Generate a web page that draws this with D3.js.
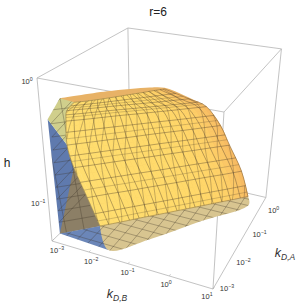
<!DOCTYPE html>
<html><head><meta charset="utf-8">
<script src="https://cdn.jsdelivr.net/npm/d3@7"></script>
<style>html,body{margin:0;padding:0;background:#fff}svg{display:block}text{font-family:"Liberation Sans",Arial,sans-serif}</style>
</head><body><svg id="c" width="300" height="308"></svg>
<script>
// values are log10 of kD,B, kD,A and h
const title = "r=6";
const tickB = [-3,-2,-1,0,1];
const tickA = [-3,-2,-1,0];
const tickH = [-1,0];
const domB = [-3,1], domA = [-3,0.33], domH = [-1.39,0];
// sheet rows (rising level of h), columns run along the kD,A ~ kD,B ridge
const sheetH = [-1.39,-1.11,-0.83,-0.63,-0.44,-0.35,-0.25];
const sheetB = [
 [-2.29,-1.93,-1.58,-1.22,-0.86,-0.51,-0.15,0.20,0.56],
 [-2.53,-2.17,-1.80,-1.44,-1.08,-0.72,-0.36,0.00,0.38],
 [-2.77,-2.41,-2.06,-1.70,-1.34,-0.99,-0.63,-0.28,0.10],
 [-2.88,-2.54,-2.19,-1.84,-1.50,-1.16,-0.81,-0.46,-0.10],
 [-2.92,-2.60,-2.29,-1.98,-1.66,-1.34,-1.03,-0.72,-0.38],
 [-2.88,-2.61,-2.34,-2.07,-1.80,-1.53,-1.26,-0.99,-0.70],
 [-2.60,-2.40,-2.22,-2.04,-1.86,-1.68,-1.51,-1.34,-1.16]];
const sheetA = [
 [-2.16,-1.87,-1.57,-1.28,-0.98,-0.69,-0.39,-0.10,0.20],
 [-2.26,-1.97,-1.69,-1.40,-1.12,-0.83,-0.54,-0.26,0.05],
 [-2.36,-2.09,-1.82,-1.55,-1.28,-1.01,-0.74,-0.47,-0.18],
 [-2.40,-2.15,-1.89,-1.64,-1.38,-1.13,-0.88,-0.62,-0.35],
 [-2.33,-2.12,-1.90,-1.68,-1.47,-1.25,-1.04,-0.82,-0.58],
 [-2.33,-2.15,-1.97,-1.78,-1.60,-1.42,-1.24,-1.05,-0.85],
 [-2.42,-2.28,-2.13,-1.97,-1.80,-1.63,-1.47,-1.30,-1.14]];
// rim of the far side of the sheet: [log kD,B, log kD,A, log h]
const rim = [[-2.84,-2.57,-0.21],[-2.13,-1.92,-0.21],[-1.38,-1.41,-0.21],[-1.16,-1.14,-0.24],[-0.80,-0.94,-0.31],[-0.40,-0.60,-0.44],[-0.10,-0.35,-0.62],[0.10,-0.19,-0.83],[0.38,0.05,-1.11],[0.57,0.21,-1.39]];
const wallTop = [-3,-2.80,-0.35];
const wallFoot = [-3,-2.72,-1.39];
const floorEdge = [[-1.64,-2.79],[-0.96,-2.14],[-0.16,-1.15],[0.70,-0.10]];
const meshB = [-2.8,-2.5,-2.2,-1.9,-1.6,-1.3,-1.0,-0.7,-0.4,-0.1,0.2,0.5,0.8];
const meshA = [-2.9,-2.65,-2.4,-2.15,-1.9,-1.65,-1.4,-1.15,-0.9,-0.65,-0.4,-0.15,0.1];
const meshH = [-1.28,-1.17,-1.06,-0.95,-0.84,-0.73,-0.62,-0.51,-0.40,-0.29];
const colYellow = ["#ffde70","#ffdd6e","#ffdc6d","#ffdb6c","#ffda6b","#ffd96a","#ffd669","#fed068","#f6b862"];

const X = d3.scaleLinear().domain(domB).range([0,1]);
const Y = d3.scaleLinear().domain(domA).range([0,1]);
const Z = d3.scaleLinear().domain(domH).range([0,1]);
function proj(p){
  const x=X(p[0]),y=Y(p[1]),z=Z(p[2]);
  const w=1-0.1046*x+0.228*y-0.1329*z;
  return [(52+138.7*x+108*y-19.92*z)/w,(241+17.8*x-37*y-173.37*z)/w];
}
const svg=d3.select("#c");
const poly=pts=>"M"+pts.map(p=>proj(p).map(v=>v.toFixed(2)).join(",")).join("L")+"Z";
const pl=pts=>"M"+pts.map(p=>proj(p).map(v=>v.toFixed(2)).join(",")).join("L");
const [b0,b1]=domB,[a0,a1]=domA,[h0,h1]=domH;

// box
const edges=[[[b0,a0,h0],[b1,a0,h0]],[[b1,a0,h0],[b1,a1,h0]],[[b1,a1,h0],[b0,a1,h0]],[[b0,a1,h0],[b0,a0,h0]],
 [[b0,a0,h1],[b1,a0,h1]],[[b1,a0,h1],[b1,a1,h1]],[[b1,a1,h1],[b0,a1,h1]],[[b0,a1,h1],[b0,a0,h1]],
 [[b0,a0,h0],[b0,a0,h1]],[[b1,a0,h0],[b1,a0,h1]],[[b1,a1,h0],[b1,a1,h1]],[[b0,a1,h0],[b0,a1,h1]]];
svg.append("g").selectAll("path").data(edges).join("path").attr("d",pl).attr("fill","none").attr("stroke","#b4b4b4").attr("stroke-width",0.8);

// smooth sampling of the sheet tables
function cr(v,t){
  const n=v.length-1,i=Math.max(0,Math.min(Math.floor(t),n-1)),f=t-i;
  const p0=v[Math.max(i-1,0)],p1=v[i],p2=v[i+1],p3=v[Math.min(i+2,n)];
  return 0.5*(2*p1+(p2-p0)*f+(2*p0-5*p1+4*p2-p3)*f*f+(3*p1-p0-3*p2+p3)*f*f*f);
}
function sample(r,c){
  const bl=t=>cr(t.map(row=>cr(row,c)),r);
  return [bl(sheetB),bl(sheetA),cr(sheetH,r)];
}
const rows=sheetH.length-1;
const C=[sheetB[0][0],sheetA[0][0],sheetH[0]];
const leftCol=sheetH.map((h,i)=>[sheetB[i][0],sheetA[i][0],h]);
const rightEnd=[sheetB[0][8],sheetA[0][8],sheetH[0]];

// back of sheet
const smooth=d3.line().curve(d3.curveCatmullRom.alpha(0.5));
svg.append("path").attr("d",smooth(rim.map(proj))+"L"+proj(C)+"Z").attr("fill","#e8b266");

// blue wall and floor
const wallPoly=[wallTop,wallFoot,...leftCol.slice(0,4)];
const blueFloor=[wallFoot,[floorEdge[0][0],floorEdge[0][1],h0],C];
const tanFloor=[C,...floorEdge.map(e=>[e[0],e[1],h0]),rightEnd];
const brown=[wallFoot,...leftCol.slice(0,3)];
const greenPatch=[rim[0],wallTop,...leftCol.slice(3)];
svg.append("path").attr("d",poly(wallPoly)).attr("fill","#5f7aae");
svg.append("path").attr("d",poly(blueFloor)).attr("fill","#6b86b8");
svg.append("path").attr("d",poly(brown)).attr("fill","#8c7f66");
svg.append("path").attr("d",smooth(tanFloor.map(proj))+"Z").attr("fill","#d8c590");
svg.append("path").attr("d",poly(greenPatch)).attr("fill","#d0cf8c");

// clipped meshes on wall and floor
const defs=svg.append("defs");
function clip(id,d){defs.append("clipPath").attr("id",id).append("path").attr("d",d);}
clip("cw",poly(wallPoly));clip("cf",poly(blueFloor)+smooth(tanFloor.map(proj))+"Z");clip("cg",poly(greenPatch));
const meshStroke="#3d3428";
const gf=svg.append("g").attr("clip-path","url(#cf)").attr("fill","none").attr("stroke",meshStroke).attr("stroke-opacity",0.5).attr("stroke-width",0.65);
meshB.forEach(b=>gf.append("path").attr("d",pl([[b,a0,h0],[b,a1,h0]])));
meshA.forEach(a=>gf.append("path").attr("d",pl([[b0,a,h0],[b1,a,h0]])));
["cw","cg"].forEach(id=>{
  const g=svg.append("g").attr("clip-path",`url(#${id})`).attr("fill","none").attr("stroke",meshStroke).attr("stroke-opacity",0.5).attr("stroke-width",0.65);
  meshH.forEach(h=>g.append("path").attr("d",pl([[wallFoot[0],wallFoot[1],h],[C[0]+0.4,C[1]+0.3,h]])));
  meshH.forEach(h=>g.append("path").attr("d",pl([[wallFoot[0],wallFoot[1],h],[C[0]+0.4,C[1]+0.3,h+0.5]])));
  meshB.slice(0,5).forEach((b,i)=>g.append("path").attr("d",pl([[b,wallFoot[1]+0.25*i,h0],[b-0.5,wallFoot[1]+0.25*i,h1]])));
});

// yellow facets
const gs=svg.append("g");
const colour=d3.scaleLinear().domain(d3.range(9)).range(colYellow);
const NR=rows*4,NC=32;
for(let i=0;i<NR;i++)for(let j=0;j<NC;j++){
  const r=i/4,r2=(i+1)/4,c=j/4,c2=(j+1)/4,f=colour(c+0.125);
  gs.append("path").attr("d",poly([sample(r,c),sample(r,c2),sample(r2,c2),sample(r2,c)])).attr("fill",f).attr("stroke",f).attr("stroke-width",0.5);
}
// sheet mesh
const gm=svg.append("g").attr("fill","none").attr("stroke",meshStroke).attr("stroke-width",0.65).attr("stroke-opacity",0.55);
const fine=f=>d3.range(25).map(i=>f(i/24));
d3.range(0,8.01,0.5).forEach(c=>gm.append("path").attr("d",pl(fine(t=>sample(t*rows,c)))));
d3.range(-2.5,8.01,0.6).forEach(c=>{
  const pts=d3.range(25).map(i=>{const t=i/24,cc=c+t*2.5;return cc<0||cc>8?null:sample(t*rows,cc);}).filter(Boolean);
  if(pts.length>1)gm.append("path").attr("d",pl(pts)).attr("stroke-opacity",0.45);
});
d3.range(0,rows+0.01,0.5).forEach(r=>gm.append("path").attr("d",pl(fine(t=>sample(r,t*8)))));
d3.range(0.25,rows,1).forEach(r=>gm.append("path").attr("d",pl(fine(t=>sample(r,t*8)))).attr("stroke-opacity",0.35));

// tick labels
function sup(sel,e){
  sel.text("10").attr("font-size",7.5).attr("fill","#333").attr("text-anchor","middle")
   .append("tspan").attr("dy",-3).attr("font-size",5.2).text(String(e).replace("-","\u2212"));
}
tickB.forEach(e=>{
  const p=proj([e,a0,h0]),t=X(e);
  svg.append("text").attr("x",p[0]+5-11*t).attr("y",p[1]+12-2*t).call(sup,e);
  const q=proj([e,a0+0.06,h0]);
  svg.append("path").attr("d",`M${p}L${q}`).attr("stroke","#b4b4b4").attr("stroke-width",.6);
});
tickA.forEach(e=>{
  const p=proj([b1,e,h0]);
  svg.append("text").attr("x",p[0]+(e===-3?14:12)).attr("y",p[1]+(e===-3?2:8)).call(sup,e);
});
tickH.forEach(e=>{
  const p=proj([b0,a0,e]);
  svg.append("text").attr("x",p[0]-10).attr("y",p[1]+6).call(sup,e);
});
// titles
svg.append("text").attr("x",158).attr("y",16).attr("text-anchor","middle").attr("font-size",12).attr("fill","#222").text(title);
svg.append("text").attr("x",7).attr("y",167).attr("text-anchor","middle").attr("font-size",12).attr("fill","#222").text("h");
function kd(x,y,s){
  const t=svg.append("text").attr("x",x).attr("y",y).attr("text-anchor","middle").attr("font-size",12.5).attr("font-style","italic").attr("fill","#333");
  t.append("tspan").text("k");
  t.append("tspan").attr("dy",3).attr("font-size",8.5).text("D,"+s);
}
kd(117,298,"B");kd(285,257,"A");
</script></body></html>
